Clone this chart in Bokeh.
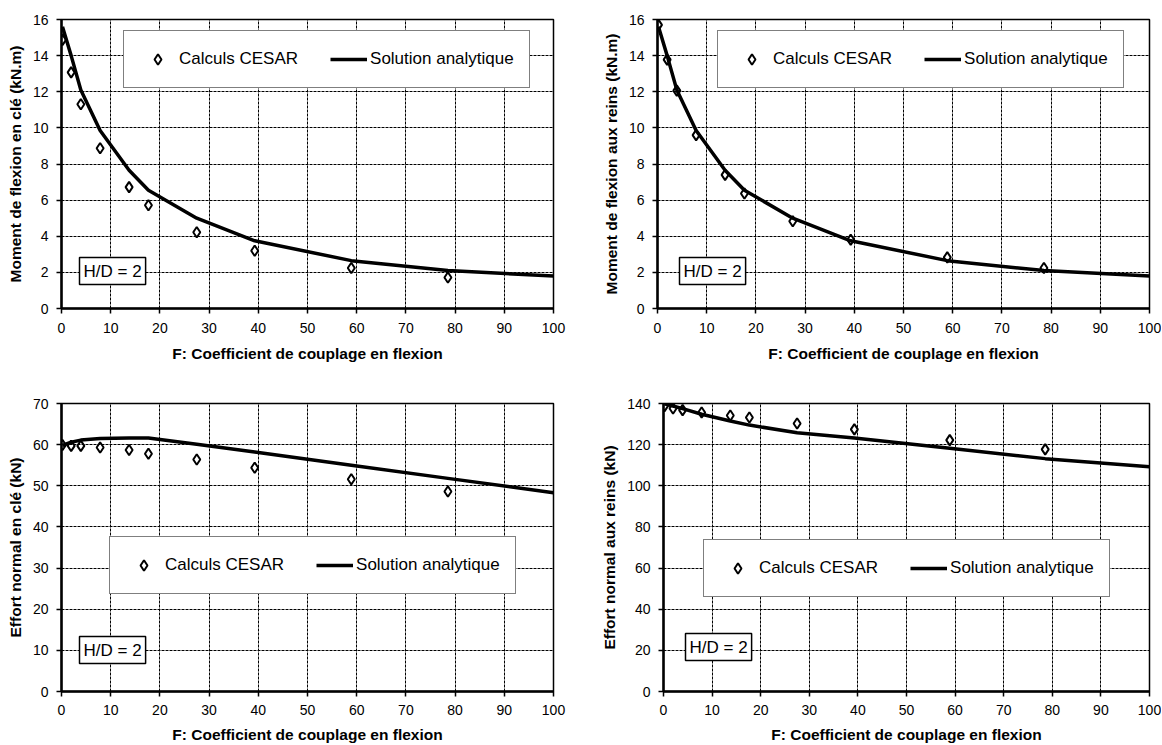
from bokeh.plotting import figure
from bokeh.layouts import column, row
from bokeh.models import Legend, LegendItem, Label, SingleIntervalTicker
from bokeh.embed import file_html
from bokeh.resources import INLINE

# ---- data ----
F_cesar = [0.2, 1.96, 3.93, 7.85, 13.74, 17.67, 27.49, 39.27, 58.9, 78.54]
F_analytic = [0.2, 1.96, 3.93, 7.85, 13.74, 17.67, 27.49, 39.27, 58.9, 78.54, 100]

m_cle_cesar = [14.87, 13.07, 11.31, 8.87, 6.72, 5.72, 4.22, 3.2, 2.24, 1.72]
m_cle_analytic = [15.6, 14.0, 12.1, 9.85, 7.65, 6.55, 5.0, 3.75, 2.65, 2.1, 1.8]

m_reins_cesar = [15.7, 13.78, 12.06, 9.6, 7.4, 6.37, 4.83, 3.81, 2.83, 2.24]
m_reins_analytic = [15.6, 14.0, 12.1, 9.85, 7.65, 6.55, 5.0, 3.75, 2.65, 2.1, 1.8]

n_cle_cesar = [59.9, 59.7, 59.7, 59.3, 58.7, 57.8, 56.4, 54.4, 51.6, 48.6]
n_cle_analytic = [59.8, 60.6, 61.1, 61.5, 61.6, 61.6, 60.1, 58.2, 55.0, 51.8, 48.3]

n_reins_cesar = [138.7, 137.6, 136.8, 135.6, 134.2, 133.2, 130.3, 127.4, 122.2, 117.7]
n_reins_analytic = [139.8, 138.8, 137.5, 134.8, 131.5, 129.5, 125.8, 123.2, 118.3, 113.2, 109.3]

x_label = "F: Coefficient de couplage en flexion"
legend_labels = ["Calculs CESAR", "Solution analytique"]
hd_text = "H/D = 2"

FONT = "Liberation Sans"


def panel(width, height, ml, mr, mt, mb, ymax, ystep, ylabel, cesar, analytic,
          leg_xy, hd_xy, tick_standoff, xlab_standoff):
    p = figure(width=width, height=height, x_range=(0, 100), y_range=(0, ymax),
               output_backend="svg", toolbar_location=None,
               min_border_left=ml, min_border_right=mr,
               min_border_top=mt, min_border_bottom=mb)
    p.background_fill_color = "white"
    p.border_fill_color = "white"
    p.outline_line_color = "black"
    p.outline_line_width = 1.5

    p.xaxis.ticker = SingleIntervalTicker(interval=10)
    p.yaxis.ticker = SingleIntervalTicker(interval=ystep)
    for ax in (p.xaxis, p.yaxis):
        ax.axis_line_width = 2.5
        ax.axis_line_color = "black"
        ax.major_tick_line_color = "black"
        ax.major_tick_line_width = 1.5
        ax.major_tick_out = 5
        ax.major_tick_in = 0
        ax.minor_tick_line_color = None
        ax.major_label_text_font = FONT
        ax.major_label_text_font_size = "14px"
        ax.major_label_text_color = "black"
        ax.axis_label_text_font = FONT
        ax.axis_label_text_font_size = "15.5px"
        ax.axis_label_text_font_style = "bold"
        ax.axis_label_text_color = "black"
    p.xaxis.axis_label = x_label
    p.yaxis.axis_label = ylabel
    p.xaxis.major_label_standoff = tick_standoff
    p.xaxis.axis_label_standoff = xlab_standoff
    p.yaxis.major_label_standoff = 8
    p.yaxis.axis_label_standoff = 6

    for g in (p.xgrid, p.ygrid):
        g.grid_line_color = "black"
        g.grid_line_dash = "3 1"
        g.grid_line_width = 1

    r_pts = p.scatter(F_cesar, cesar, marker="diamond", size=10.5,
                      line_color="black", line_width=2, fill_color=None)
    r_line = p.line(F_analytic, analytic, line_color="black", line_width=3.5)

    legend = Legend(items=[LegendItem(label=legend_labels[0], renderers=[r_pts]),
                           LegendItem(label=legend_labels[1], renderers=[r_line])],
                    orientation="horizontal", location=leg_xy,
                    glyph_width=37, glyph_height=26, label_height=26,
                    label_standoff=3, spacing=32, padding=15, margin=0,
                    label_text_font=FONT, label_text_font_size="17px",
                    label_text_color="black",
                    border_line_color="black", border_line_width=1.5,
                    background_fill_color="white", background_fill_alpha=1)
    p.add_layout(legend)

    pad = 4
    lab = Label(x=hd_xy[0] + pad, y=hd_xy[1] + pad, x_units="screen", y_units="screen",
                text=hd_text, text_font=FONT, text_font_size="17px", text_color="black",
                border_line_color="black", border_line_width=1.5,
                background_fill_color="white", background_fill_alpha=1, padding=pad)
    p.add_layout(lab)
    return p


p1 = panel(573, 370, 61, 20, 19, 62, 16, 2, "Moment de flexion en clé (kN.m)",
           m_cle_cesar, m_cle_analytic, (62, 220), (14, 20), 9, 9)
p2 = panel(588, 370, 84, 12, 19, 62, 16, 2, "Moment de flexion aux reins (kN.m)",
           m_reins_cesar, m_reins_analytic, (60, 220), (18, 20), 9, 9)
p3 = panel(573, 375, 61, 20, 33, 53, 70, 10, "Effort normal en clé (kN)",
           n_cle_cesar, n_cle_analytic, (48, 97), (14, 24), 8, 8)
p4 = panel(588, 375, 90, 12, 33, 53, 140, 20, "Effort normal aux reins (kN)",
           n_reins_cesar, n_reins_analytic, (40, 94), (18, 27), 8, 8)

layout = column(row(p1, p2), row(p3, p4))
open("out.html", "w").write(file_html(layout, INLINE))
